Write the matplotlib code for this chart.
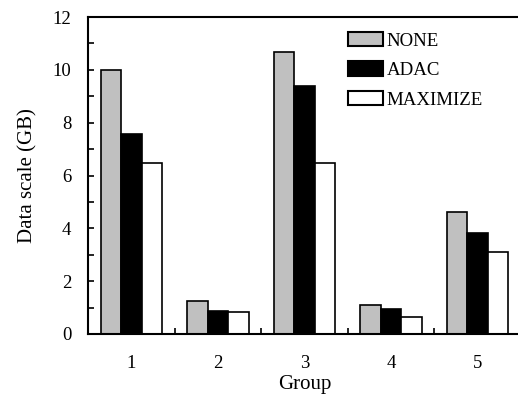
import matplotlib
matplotlib.use("Agg")
import matplotlib.pyplot as plt
import numpy as np
from matplotlib.ticker import MultipleLocator, FixedLocator

groups = [1, 2, 3, 4, 5]
none_vals = [10.0, 1.26, 10.69, 1.09, 4.63]
adac_vals = [7.57, 0.86, 9.38, 0.95, 3.82]
maximize_vals = [6.47, 0.82, 6.46, 0.64, 3.10]
series_names = ["NONE", "ADAC", "MAXIMIZE"]

plt.rcParams['font.family'] = ['Liberation Serif', 'DejaVu Serif']

fig = plt.figure(figsize=(5.18, 3.94), dpi=100)
ax = fig.add_axes([88 / 518, 60 / 394, 433 / 518, 317 / 394])

x = np.array(groups)
w = 0.237
colors = ["#c0c0c0", "#000000", "#ffffff"]
for i, (vals, name, c) in enumerate(zip([none_vals, adac_vals, maximize_vals], series_names, colors)):
    ax.bar(x + (i - 1) * w, vals, width=w, color=c, edgecolor="black", linewidth=1.2, label=name)

ax.set_xlim(0.5, 5.5)
ax.set_ylim(0, 12)
ax.set_xticks(groups)
ax.xaxis.set_minor_locator(FixedLocator([1.5, 2.5, 3.5, 4.5]))
ax.yaxis.set_major_locator(MultipleLocator(2))
ax.yaxis.set_minor_locator(MultipleLocator(1))
ax.tick_params(axis='x', which='major', length=0, pad=15, labelsize=13.5)
ax.tick_params(axis='x', which='minor', direction='in', length=4, width=1.2, top=False)
ax.tick_params(axis='y', which='both', direction='in', length=4, width=1.2, pad=12, labelsize=13.5)
for s in ['left', 'bottom', 'top']:
    ax.spines[s].set_linewidth(1.5)
ax.spines['right'].set_visible(False)

ax.set_xlabel("Group", fontsize=15, labelpad=2)
ax.set_ylabel("Data scale (GB)", fontsize=15, labelpad=11)

leg = fig.legend(loc='upper left', bbox_to_anchor=(348 / 518, 1 - 32 / 394), frameon=False,
                 fontsize=13.6, handlelength=1.85, handleheight=0.8, handletextpad=0.2,
                 labelspacing=0.62, borderpad=0, borderaxespad=0)
for p in leg.get_patches():
    p.set_linewidth(1.5)

fig.savefig("out.png", dpi=100)
